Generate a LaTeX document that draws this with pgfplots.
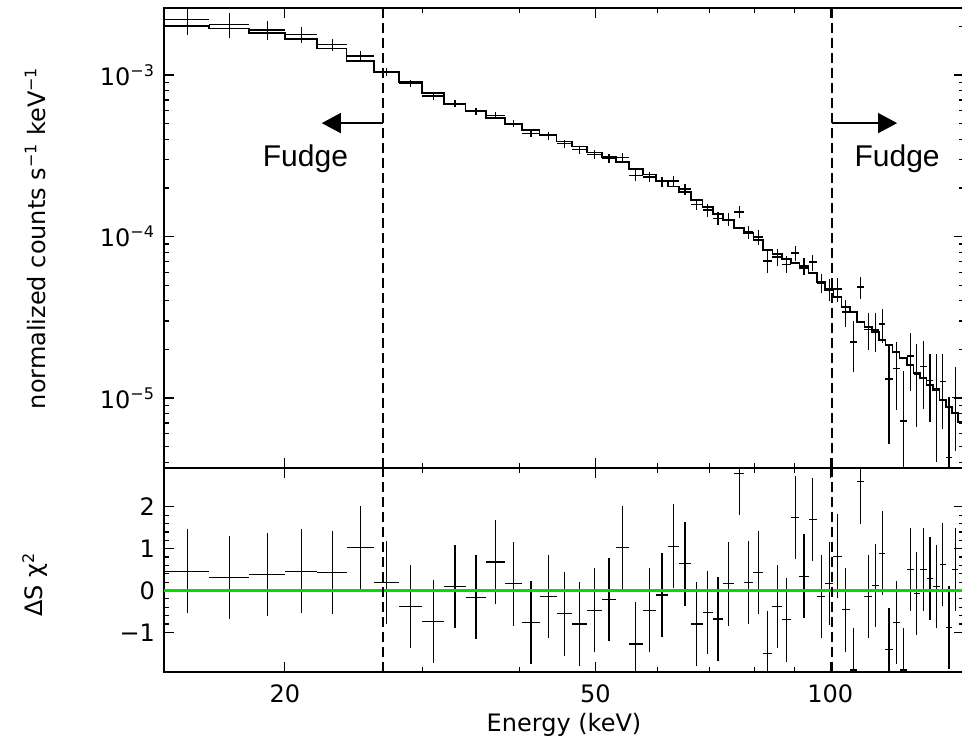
\documentclass[border=0pt]{standalone}
\usepackage{fontspec}
\setmainfont{DejaVu Sans}
\newfontfamily\fudgefont{Liberation Sans}
\usepackage{pgfplots}
\usepackage{pgfplotstable}
\pgfplotsset{compat=1.18}
\usetikzlibrary{arrows.meta}
\definecolor{ResGreen}{HTML}{00E000}

% binned spectrum: centre, half width, data, errors
\pgfplotstableread{
E xe d ep em
15.0 1.0 2.213e-3 4.32e-4 4.32e-4
17.0 1.0 2.060e-3 3.73e-4 3.73e-4
19.0 1.0 1.899e-3 2.60e-4 2.60e-4
21.0 1.0 1.786e-3 2.11e-4 2.11e-4
23.0 1.0 1.549e-3 1.33e-4 1.33e-4
25.0 1.0 1.311e-3 9.7e-5 9.7e-5
27.0 1.0 1.051e-3 5.8e-5 5.8e-5
29.0 1.0 8.92e-4 4.6e-5 4.6e-5
31.0 1.0 7.41e-4 3.8e-5 3.8e-5
33.05 1.05 6.66e-4 3.4e-5 3.4e-5
35.15 1.05 5.93e-4 3.0e-5 3.0e-5
37.25 1.05 5.61e-4 2.9e-5 2.9e-5
39.3 1.0 5.01e-4 2.6e-5 2.6e-5
41.35 1.05 4.37e-4 2.4e-5 2.4e-5
43.5 1.1 4.22e-4 2.5e-5 2.5e-5
45.65 1.05 3.77e-4 2.2e-5 2.2e-5
47.75 1.05 3.46e-4 2.0e-5 2.0e-5
49.9 1.1 3.22e-4 2.0e-5 2.0e-5
52.05 1.05 3.06e-4 2.0e-5 2.0e-5
54.15 1.05 3.08e-4 2.0e-5 2.0e-5
56.35 1.15 2.40e-4 1.8e-5 1.8e-5
58.65 1.15 2.34e-4 1.7e-5 1.7e-5
60.85 1.05 2.19e-4 1.6e-5 1.6e-5
62.95 1.05 2.21e-4 1.7e-5 1.7e-5
65.15 1.15 1.97e-4 1.6e-5 1.6e-5
67.45 1.15 1.58e-4 1.3e-5 1.3e-5
69.65 1.05 1.46e-4 1.3e-5 1.3e-5
71.8 1.1 1.30e-4 1.16e-5 1.16e-5
74.1 1.2 1.28e-4 1.14e-5 1.14e-5
76.45 1.15 1.42e-4 1.22e-5 1.22e-5
78.65 1.05 1.066e-4 1.03e-5 1.03e-5
80.85 1.15 9.93e-5 1.04e-5 1.04e-5
83.15 1.15 7.05e-5 1.08e-5 1.08e-5
85.5 1.2 7.46e-5 9.0e-6 9.0e-6
87.85 1.15 6.75e-5 8.2e-6 8.2e-6
90.15 1.15 7.90e-5 8.3e-6 8.3e-6
92.55 1.25 6.57e-5 8.0e-6 8.0e-6
95.0 1.2 6.95e-5 7.9e-6 7.9e-6
97.35 1.15 5.15e-5 7.1e-6 7.1e-6
99.7 1.2 4.73e-5 7.2e-6 7.2e-6
102.15 1.25 4.73e-5 8.0e-6 8.0e-6
104.65 1.25 3.41e-5 6.6e-6 6.6e-6
107.05 1.15 2.22e-5 7.7e-6 7.7e-6
109.4 1.2 4.87e-5 7.5e-6 7.5e-6
111.85 1.25 2.67e-5 6.8e-6 6.8e-6
114.3 1.2 2.64e-5 7.2e-6 7.2e-6
116.6 1.1 2.87e-5 6.8e-6 6.8e-6
118.95 1.25 1.31e-5 7.9e-6 7.9e-6
121.45 1.25 1.53e-5 6.9e-6 6.9e-6
124.0 1.3 7.2e-6 7.5e-6 7.0e-6
126.6 1.3 1.82e-5 7.1e-6 7.1e-6
129.1 1.2 1.41e-5 7.5e-6 7.5e-6
131.6 1.3 1.56e-5 7.0e-6 7.0e-6
134.2 1.3 1.29e-5 5.8e-6 5.8e-6
136.8 1.3 1.14e-5 7.4e-6 7.4e-6
139.4 1.3 1.26e-5 6.2e-6 6.2e-6
142.0 1.3 4.3e-6 5.8e-6 4.2e-6
144.6 1.3 1.01e-5 5.4e-6 5.4e-6
}\spec

% model histogram: left bin edge, model level
\pgfplotstableread{
e m
14.0 2.011e-3
16.0 1.946e-3
18.0 1.828e-3
20.0 1.671e-3
22.0 1.463e-3
24.0 1.226e-3
26.0 1.044e-3
28.0 9.05e-4
30.0 7.74e-4
32.0 6.61e-4
34.1 5.98e-4
36.2 5.42e-4
38.3 4.97e-4
40.3 4.56e-4
42.4 4.25e-4
44.6 3.88e-4
46.7 3.61e-4
48.8 3.31e-4
51.0 3.11e-4
53.1 2.89e-4
55.2 2.62e-4
57.5 2.42e-4
59.8 2.21e-4
61.9 2.04e-4
64.0 1.89e-4
66.3 1.68e-4
68.6 1.52e-4
70.7 1.38e-4
72.9 1.265e-4
75.3 1.129e-4
77.6 1.051e-4
79.7 9.51e-5
82.0 8.25e-5
84.3 7.79e-5
86.7 7.26e-5
89.0 6.85e-5
91.3 6.38e-5
93.8 5.94e-5
96.2 5.23e-5
98.5 4.66e-5
100.9 4.22e-5
103.4 3.66e-5
105.9 3.41e-5
108.2 2.96e-5
110.6 2.75e-5
113.1 2.56e-5
115.5 2.29e-5
117.7 2.13e-5
120.2 1.93e-5
122.7 1.77e-5
125.3 1.60e-5
127.9 1.43e-5
130.3 1.33e-5
132.9 1.20e-5
135.5 1.12e-5
138.1 9.7e-6
140.7 8.8e-6
143.3 8.1e-6
145.9 7.1e-6
148.5 7.1e-6
}\model

% residuals (error = 1)
\pgfplotstableread{
E xe r
15.0 1.0 0.46
17.0 1.0 0.31
19.0 1.0 0.38
21.0 1.0 0.46
23.0 1.0 0.43
25.0 1.0 1.03
27.0 1.0 0.19
29.0 1.0 -0.38
31.0 1.0 -0.74
33.05 1.05 0.10
35.15 1.05 -0.16
37.25 1.05 0.68
39.3 1.0 0.16
41.35 1.05 -0.77
43.5 1.1 -0.14
45.65 1.05 -0.56
47.75 1.05 -0.80
49.9 1.1 -0.47
52.05 1.05 -0.22
54.15 1.05 1.03
56.35 1.15 -1.28
58.65 1.15 -0.47
60.85 1.05 -0.11
62.95 1.05 1.06
65.15 1.15 0.64
67.45 1.15 -0.80
69.65 1.05 -0.53
71.8 1.1 -0.68
74.1 1.2 0.16
76.45 1.15 2.80
78.65 1.05 0.19
80.85 1.15 0.43
83.15 1.15 -1.50
85.5 1.2 -0.38
87.85 1.15 -0.70
90.15 1.15 1.75
92.55 1.25 0.34
95.0 1.2 1.70
97.35 1.15 -0.14
99.7 1.2 0.17
102.15 1.25 0.82
104.65 1.25 -0.46
107.05 1.15 -1.90
109.4 1.2 2.60
111.85 1.25 -0.14
114.3 1.2 0.12
116.6 1.1 0.89
118.95 1.25 -1.42
121.45 1.25 -0.77
124.0 1.3 -1.90
126.6 1.3 0.50
129.1 1.2 -0.07
131.6 1.3 0.50
134.2 1.3 0.29
136.8 1.3 0.10
139.4 1.3 0.62
142.0 1.3 -0.89
144.6 1.3 0.50
}\resid

\begin{document}
\begin{tikzpicture}[font=\fontsize{12}{14}\selectfont]
\path[use as bounding box] (0,0) rectangle (481pt,372pt);

\begin{axis}[
  scale only axis,
  at={(82pt,138pt)}, anchor=south west,
  width=400pt, height=230pt,
  xmode=log, ymode=log,
  xmin=14, xmax=148.4,
  ymin=3.687e-6, ymax=2.601e-3,
  xtick={20,50,100},
  minor xtick={30,40,60,70,80,90},
  xticklabels={},
  ytick={1e-5,1e-4,1e-3},
  yticklabels={10\textsuperscript{−5},10\textsuperscript{−4},10\textsuperscript{−3}},
  minor ytick={4e-6,5e-6,6e-6,7e-6,8e-6,9e-6,2e-5,3e-5,4e-5,5e-5,6e-5,7e-5,8e-5,9e-5,2e-4,3e-4,4e-4,5e-4,6e-4,7e-4,8e-4,9e-4,2e-3},
  tick align=inside,
  major tick length=5pt,
  minor tick length=2.5pt,
  axis line style={line width=0.9pt},
  tick style={line width=0.6pt,black},
  yticklabel style={xshift=-1pt},
  ylabel={normalized counts s\textsuperscript{−1} keV\textsuperscript{−1}},
  ylabel style={at={(axis description cs:-0.16125,0.5)},rotate=0,anchor=center},
]
\addplot[black, line width=0.8pt, const plot mark left] table[x=e,y=m]{\model};
\addplot[draw=none, mark=none,
  error bars/.cd, x dir=both, x explicit, y dir=both, y explicit, error mark=none,
  error bar style={draw=black,solid,line width=0.6pt}]
  table[x=E, y=d, x error=xe, y error plus=ep, y error minus=em]{\spec};
\addplot[black, line width=0.9pt, dash pattern=on 5pt off 2.5pt] coordinates {(26.7,3.687e-6) (26.7,2.601e-3)};
\addplot[black, line width=0.9pt, dash pattern=on 5pt off 2.5pt] coordinates {(100.6,3.687e-6) (100.6,2.601e-3)};
\draw[black, line width=0.75pt, -{Triangle[length=9.5pt,width=10pt]}] (axis cs:26.7,5.04e-4) -- (axis cs:22.3,5.04e-4);
\draw[black, line width=0.75pt, -{Triangle[length=9.5pt,width=10pt]}] (axis cs:100.6,5.04e-4) -- (axis cs:121.8,5.04e-4);
\node[anchor=base, font=\fudgefont\fontsize{15}{18}\selectfont] at (axis cs:21.25,2.733e-4) {Fudge};
\node[anchor=base, font=\fudgefont\fontsize{15}{18}\selectfont] at (axis cs:121.8,2.733e-4) {Fudge};
\end{axis}

\begin{axis}[
  scale only axis,
  at={(82pt,36pt)}, anchor=south west,
  width=400pt, height=102pt,
  xmode=log,
  xmin=14, xmax=148.4,
  ymin=-1.95, ymax=2.93,
  xtick={20,50,100},
  minor xtick={30,40,60,70,80,90},
  xticklabels={20,50,100},
  ytick={-1,0,1,2},
  yticklabels={−1,0,1,2},
  minor y tick num=4,
  tick align=inside,
  major tick length=5pt,
  minor tick length=2.5pt,
  axis line style={line width=0.9pt},
  tick style={line width=0.6pt,black},
  yticklabel style={xshift=-1pt},
  xticklabel style={yshift=-3pt},
  xlabel={Energy (keV)},
  xlabel style={at={(axis description cs:0.5,0)},anchor=center,yshift=-26.5pt},
  ylabel={ΔS χ\textsuperscript{2}},
  ylabel style={at={(axis description cs:-0.16125,0.43)},rotate=0,anchor=center},
]
\addplot[draw=none, mark=none,
  error bars/.cd, x dir=both, x explicit, y dir=both, y fixed=1, error mark=none,
  error bar style={draw=black,solid,line width=0.6pt}]
  table[x=E, y=r, x error=xe]{\resid};
\addplot[ResGreen, line width=1.5pt] coordinates {(14,0) (148.4,0)};
\addplot[black, line width=0.9pt, dash pattern=on 5pt off 2.5pt] coordinates {(26.7,-1.95) (26.7,2.93)};
\addplot[black, line width=0.9pt, dash pattern=on 5pt off 2.5pt] coordinates {(100.6,-1.95) (100.6,2.93)};
\end{axis}
\end{tikzpicture}
\end{document}
